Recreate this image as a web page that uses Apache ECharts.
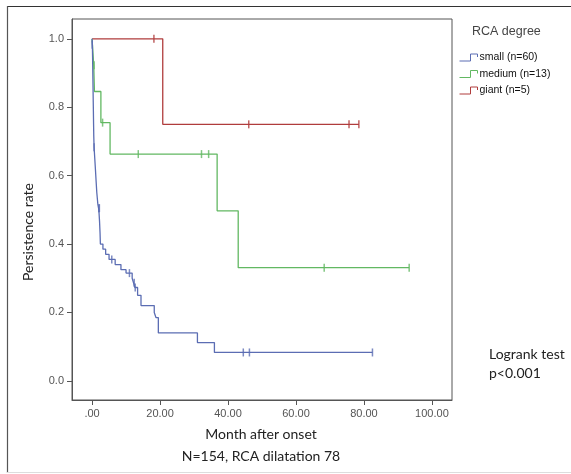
<!DOCTYPE html>
<html lang="en">
<head>
    <meta charset="UTF-8">
    <title>RCA persistence</title>
    <script src="https://cdn.jsdelivr.net/npm/echarts@6/dist/echarts.min.js"></script>
    <style>
        body{ margin:0; background:#fff; }
        #main{ width:571px; height:474px; }
    </style>
</head>
<body>
    <div id="main"></div>
<script>
    // data: [month, persistence rate]
    var groupNames = ['small (n=60)', 'medium (n=13)', 'giant (n=5)'];
    var groupColors = ['#5b6db3', '#62b862', '#b03c3c'];

    var smallCurve = [[0,1.0],[0.1,0.983],[0.15,0.95],[0.2,0.917],[0.25,0.883],[0.3,0.85],[0.35,0.817],
        [0.4,0.783],[0.45,0.75],[0.5,0.717],[0.6,0.683],[0.8,0.65],[1.0,0.617],[1.2,0.583],[1.4,0.55],
        [1.7,0.517],[2.0,0.5],[2.2,0.467],[2.35,0.433],[2.45,0.4],[3.2,0.385],[4.0,0.37],[5.0,0.355],
        [6.8,0.34],[8.5,0.325],[10.0,0.315],[11.8,0.3],[12.2,0.287],[12.6,0.273],[13.4,0.25],[14.4,0.22],
        [18.3,0.2],[18.8,0.185],[19.5,0.14],[31,0.112],[36,0.083],[82.5,0.083]];
    var smallCensor = [[0.05,0.983],[0.6,0.683],[2.0,0.505],[2.15,0.505],[5.8,0.355],[11,0.315],
        [12.4,0.287],[12.7,0.273],[44.5,0.083],[46.3,0.083],[82.5,0.083]];

    var mediumCurve = [[0,1.0],[0.5,0.923],[0.7,0.846],[2.6,0.755],[5.3,0.663],[36.8,0.497],[43,0.331],[93.3,0.331]];
    var mediumCensor = [[0.6,0.923],[3.1,0.755],[13.6,0.663],[32.2,0.663],[34.3,0.663],[68.3,0.331],[93.3,0.331]];

    var giantCurve = [[0,1.0],[20.8,0.75],[78.5,0.75]];
    var giantCensor = [[18.2,1.0],[46.1,0.75],[75.6,0.75],[78.5,0.75]];

    var xTicks = [0, 20, 40, 60, 80, 100];
    var yTicks = [0, 0.2, 0.4, 0.6, 0.8, 1.0];

    var curves = [smallCurve, mediumCurve, giantCurve];
    var censors = [smallCensor, mediumCensor, giantCensor];

    var myChart = echarts.init(document.getElementById('main'));

    var series = [];
    curves.forEach(function(c, i){
        series.push({
            name: groupNames[i],
            type: 'line',
            step: 'end',
            symbol: 'none',
            data: c,
            lineStyle: { color: groupColors[i], width: 1.3 },
            itemStyle: { color: groupColors[i] },
            animation: false,
            z: 3 - i
        });
    });
    censors.forEach(function(c, i){
        series.push({
            name: groupNames[i] + ' censored',
            type: 'scatter',
            symbol: 'rect',
            symbolSize: [1.5, 8],
            data: c,
            itemStyle: { color: groupColors[i] },
            animation: false,
            z: 4
        });
    });

    var legendData = groupNames.map(function(n, i){
        return { name: n, itemStyle: { color: 'rgba(0,0,0,0)', borderColor: groupColors[i], borderWidth: 1 } };
    });

    var tickFont = { fontFamily: 'Liberation Sans, Arial', fontSize: 11, color: '#555' };
    var titleFont = 'Lato, Open Sans, sans-serif';

    var option = {
        backgroundColor: '#fff',
        grid: {
            left: 72, top: 19, right: 119, bottom: 74,
            show: true, borderColor: '#555', borderWidth: 1
        },
        legend: {
            data: legendData,
            orient: 'vertical',
            left: 454, top: 47,
            itemWidth: 18, itemHeight: 7, itemGap: 5.5,
            icon: 'path://M0,7 L11,7 L11,0 L18,0 L18,3',
            textStyle: { fontFamily: 'Liberation Sans, Arial', fontSize: 10.5, color: '#111', padding: [0,0,0,-3] }
        },
        xAxis: {
            type: 'value',
            min: -5.9, max: 105.9,
            splitLine: { show: false },
            axisLine: { show: true, onZero: false, lineStyle: { color: '#555' } },
            axisTick: { show: true, customValues: xTicks, length: 5, lineStyle: { color: '#555' } },
            axisLabel: {
                customValues: xTicks,
                margin: 8,
                fontFamily: tickFont.fontFamily, fontSize: tickFont.fontSize, color: tickFont.color,
                formatter: function(v){ return v === 0 ? '.00' : v.toFixed(2); }
            }
        },
        yAxis: {
            type: 'value',
            min: -0.056, max: 1.058,
            splitLine: { show: false },
            axisLine: { show: true, onZero: false, lineStyle: { color: '#555' } },
            axisTick: { show: true, customValues: yTicks, length: 5, lineStyle: { color: '#555' } },
            axisLabel: {
                customValues: yTicks,
                margin: 8,
                fontFamily: tickFont.fontFamily, fontSize: tickFont.fontSize, color: tickFont.color,
                formatter: function(v){ return v.toFixed(1); }
            }
        },
        graphic: [
            // outer frame
            { type: 'line', shape: { x1: 7, y1: 6.5, x2: 571, y2: 6.5 }, style: { stroke: '#333', lineWidth: 1.2 } },
            { type: 'line', shape: { x1: 7.5, y1: 6, x2: 7.5, y2: 473 }, style: { stroke: '#555', lineWidth: 1.2 } },
            { type: 'line', shape: { x1: 7, y1: 472.5, x2: 571, y2: 472.5 }, style: { stroke: '#ddd', lineWidth: 1 } },
            {
                type: 'text', left: 472, top: 25,
                style: { text: 'RCA degree', font: '12.5px Liberation Sans, Arial', fill: '#444' }
            },
            {
                type: 'text', x: 28, y: 232, rotation: Math.PI / 2,
                style: { text: 'Persistence rate', font: '14px ' + titleFont, fill: '#222', align: 'center', verticalAlign: 'middle' }
            },
            {
                type: 'text', x: 261, y: 434,
                style: { text: 'Month after onset', font: '14px ' + titleFont, fill: '#222', align: 'center', verticalAlign: 'middle' }
            },
            {
                type: 'text', x: 261, y: 456,
                style: { text: 'N=154, RCA dilatation 78', font: '14px ' + titleFont, fill: '#222', align: 'center', verticalAlign: 'middle' }
            },
            {
                type: 'text', x: 489, y: 354,
                style: { text: 'Logrank test', font: '14px ' + titleFont, fill: '#222', verticalAlign: 'middle' }
            },
            {
                type: 'text', x: 489, y: 373,
                style: { text: 'p<0.001', font: '14px ' + titleFont, fill: '#222', verticalAlign: 'middle' }
            }
        ],
        series: series
    };

    myChart.setOption(option);
</script>
</body>
</html>
